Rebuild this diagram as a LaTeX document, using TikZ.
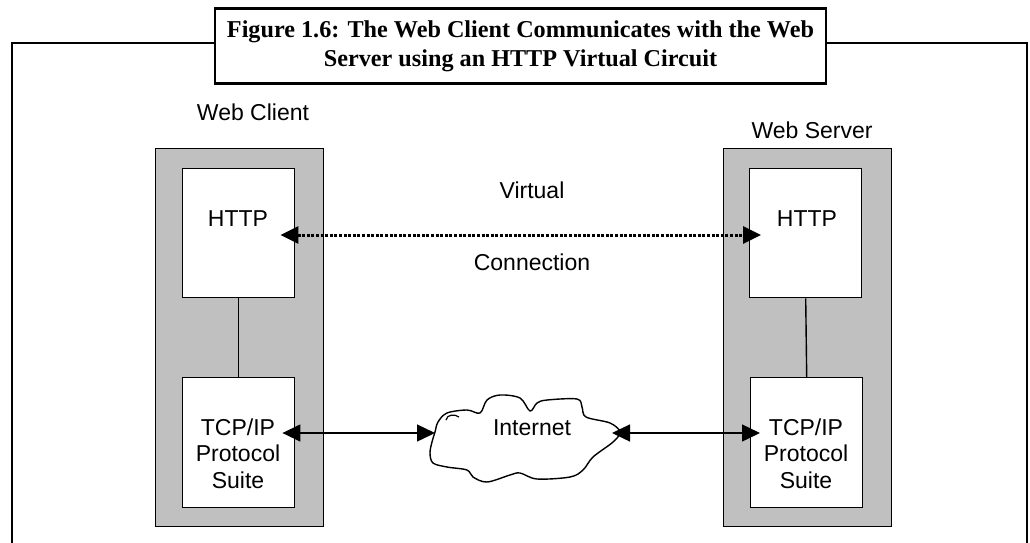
\documentclass[tikz,border=0pt]{standalone}
\usepackage{fontspec}
\setmainfont{Liberation Serif}
\newfontfamily\bodyfont{Liberation Sans}
\usetikzlibrary{arrows.meta}
\definecolor{hostgray}{RGB}{192,192,192}
\begin{document}
\begin{tikzpicture}[x=1pt,y=-1pt,
  frame/.style={line width=2.6pt},
  host/.style={draw, line width=1.4pt, fill=hostgray, anchor=north west, inner sep=0pt},
  layer/.style={draw, line width=1.4pt, fill=white, anchor=north west, inner sep=0pt},
  lbl/.style={font=\bodyfont\fontsize{23}{26.5}\selectfont, inner sep=0pt, align=center},
  link/.style={line width=1.4pt},
  twoway/.style={{Triangle[length=18pt,width=17pt]}-{Triangle[length=18pt,width=17pt]}},
  dotline/.style={line width=3pt, dash pattern=on 3pt off 1.6pt}]
\useasboundingbox (0,0) rectangle (1030,542);

% outer frame (open at the bottom)
\coordinate (fl) at (12,43);
\coordinate (fr) at (1027,43);

% caption box
\node[draw, frame, fill=white, minimum width=611pt, minimum height=75pt, inner sep=0pt,
      align=center, font=\bfseries\fontsize{24.2}{29}\selectfont] (cap) at (520.5,46)
  {Figure 1.6: The Web Client Communicates with the Web\\Server using an HTTP Virtual Circuit};
\draw[frame] (cap.west |- fl) -- (fl) -- ++(0,530);
\draw[frame] (cap.east |- fr) -- (fr) -- ++(0,530);

% client and server hosts
\node[host, minimum width=168pt, minimum height=378pt] (chost) at (155,148) {};
\node[host, minimum width=168pt, minimum height=378pt] (shost) at (723,148) {};

\node[layer, minimum width=112pt, minimum height=129pt] (chttp) at (182,168) {};
\node[layer, minimum width=112pt, minimum height=129pt] (shttp) at (749,168) {};
\node[layer, minimum width=112pt, minimum height=130pt] (ctcp) at (182,377) {};
\node[layer, minimum width=112pt, minimum height=130pt] (stcp) at (750,377) {};

\draw[link] (chttp.south) -- (ctcp.north);
\draw[link] (shttp.south) -- (stcp.north);

% labels
\node[lbl] (wclient) at (253,112) {Web Client};
\node[lbl] (wserver) at (812,130) {Web Server};
\node[lbl] (chttpt) at (238,219) {HTTP};
\node[lbl] (shttpt) at (807,219) {HTTP};
\node[lbl] (ctcpt) at (238,453.5) {TCP/IP\\Protocol\\Suite};
\node[lbl] (stcpt) at (806,453.5) {TCP/IP\\Protocol\\Suite};
\node[lbl] (virt) at (532,190) {Virtual};
\node[lbl] (conn) at (532,262) {Connection};

% virtual connection between the HTTP layers
\coordinate (vc) at (532,235);
\draw[dotline, twoway, shorten <=-15pt, shorten >=-12pt] (chttp.east |- vc) -- (shttp.west |- vc);

% the Internet cloud
\draw[link, fill=white] plot[smooth cycle, tension=0.55] coordinates {
  (435,432) (438,422) (447,413) (467,410) (480,413) (487,400) (500,395) (520,398)
  (530,411) (537,403) (547,400) (577,399) (582,407) (586,417) (610,423) (620,432)
  (613,442) (593,457) (583,470) (570,477) (537,479) (520,473) (510,475) (487,482)
  (473,477) (467,470) (447,467) (433,463) (430,453) (432,442)};
\draw[line width=1.2pt] (446,420) .. controls (447,414) and (455,414) .. (459,417);
\node[lbl] (inet) at (532,428) {Internet};
\coordinate (cloudW) at (435,433);
\coordinate (cloudE) at (612,433);

\draw[link, twoway, shorten <=-13pt] (ctcp.east |- cloudW) -- (cloudW);
\draw[link, twoway, shorten >=-10pt] (cloudE) -- (stcp.west |- cloudE);
\end{tikzpicture}
\end{document}
